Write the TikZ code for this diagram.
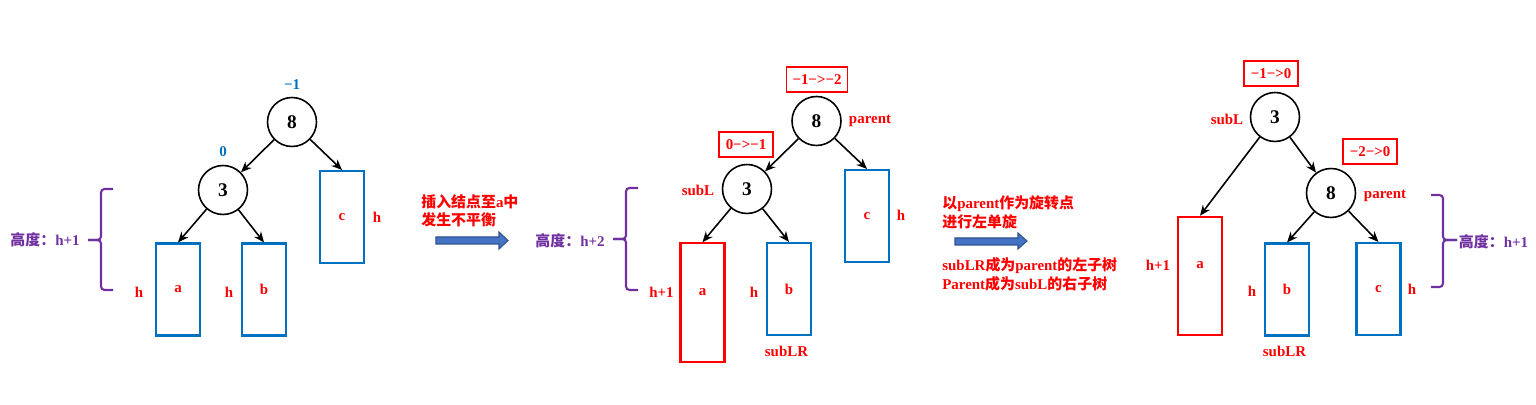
\documentclass[tikz,border=0pt]{standalone}
\usepackage{fontspec}
\setmainfont{Liberation Serif}
\newfontfamily\cjk{Noto Sans CJK SC}
\usetikzlibrary{arrows.meta}
\definecolor{boxblue}{RGB}{0,112,192}
\definecolor{hpurple}{RGB}{112,48,160}
\definecolor{pushfill}{RGB}{68,114,196}
\definecolor{pushline}{RGB}{47,82,143}
\tikzset{
  knot/.style    = {circle, draw, line width=0.9pt, minimum size=0.98cm, inner sep=0, font=\fontsize{11}{12}\selectfont\bfseries},
  sub/.style     = {rectangle, draw=boxblue, line width=1.2pt, minimum width=0.88cm, minimum height=1.84cm, inner sep=0, text=red, font=\fontsize{8.5}{10}\selectfont\bfseries},
  tallsub/.style = {sub, draw=red, minimum height=2.37cm},
  lbl/.style     = {text=red, inner sep=0, font=\fontsize{8.5}{10}\selectfont\bfseries},
  bf/.style      = {lbl, text=boxblue},
  chg/.style     = {lbl, draw=red, line width=0.7pt, minimum width=1.08cm, minimum height=0.5cm},
  ht/.style      = {lbl, text=hpurple},
  note/.style    = {lbl, anchor=west, align=left, font=\fontsize{8.5}{10.5}\selectfont\bfseries},
  edge/.style    = {line width=0.9pt, -{Stealth[length=6pt,width=5pt]}},
  hbrace/.style  = {draw=hpurple, line width=1.2pt, rounded corners=2pt},
  push/.style    = {draw=pushline, fill=pushfill, line width=0.6pt}
}

\begin{document}
\begin{tikzpicture}[x=0.02cm, y=-0.02cm]
  \useasboundingbox (0,0) rectangle (1536,405);

  % before insertion
  \node[knot] (p8) at (292,122) {8};     \node[bf] (p8b) at (292,85) {−1};
  \node[knot] (p3) at (223,190) {3};     \node[bf] (p3b) at (223,152) {0};
  \node[sub]  (pa) at (178,289.5) {a};   \node[lbl] (pah) at (139,292) {h};
  \node[sub]  (pb) at (264,289.5) {b};   \node[lbl] (pbh) at (229,292) {h};
  \node[sub]  (pc) at (342,217) {c};     \node[lbl] (pch) at (377,217) {h};
  \draw[edge] (p8) -- (p3);  \draw[edge] (p8) -- (pc.north);
  \draw[edge] (p3) -- (pa.north);  \draw[edge] (p3) -- (pb.north);
  \draw[hbrace] (113,189) -- (101,189) -- (101,240) -- (88,240);
  \draw[hbrace] (88,240) -- (101,240) -- (101,290) -- (113,290);
  \node[ht] (ph) at (45,240) {{\cjk 高度：}h+1};

  \node[note] (n1) at (421,211) {{\cjk 插入结点至}a{\cjk 中}\\{\cjk 发生不平衡}};
  \draw[push] (436,237) -- (499,237) -- (499,232) -- (508,240.5) -- (499,249) -- (499,244) -- (436,244) -- cycle;

  % after insertion
  \node[ht] (qh) at (570,241) {{\cjk 高度：}h+2};
  \draw[hbrace] (638,188) -- (626,188) -- (626,239) -- (613,239);
  \draw[hbrace] (613,239) -- (626,239) -- (626,290) -- (638,290);
  \node[knot] (q8) at (816.5,121) {8};   \node[lbl] (q8n) at (870,121) {parent};
  \node[chg, minimum width=1.22cm] (q8b) at (817,79.5) {−1−>−2};
  \node[knot] (q3) at (747,189) {3};     \node[lbl] (q3n) at (698,190) {subL};
  \node[chg] (q3b) at (746,144.5) {0−>−1};
  \node[tallsub, label={[lbl,yshift=0.21cm]center:a}] (qa) at (702.5,302.5) {};
  \node[lbl] (qah) at (661.5,292) {h+1};
  \node[sub]  (qb) at (789,289) {b};     \node[lbl] (qbh) at (754,292) {h};
  \node[lbl] (qbn) at (786.5,351) {subLR};
  \node[sub]  (qc) at (867,216) {c};     \node[lbl] (qch) at (901,215) {h};
  \draw[edge] (q8) -- (q3);  \draw[edge] (q8) -- (qc.north);
  \draw[edge] (q3) -- (qa.north);  \draw[edge] (q3) -- (qb.north);

  \node[note] (n2) at (942,212.5) {{\cjk 以}parent{\cjk 作为旋转点}\\{\cjk 进行左单旋}};
  \draw[push] (955,238) -- (1018,238) -- (1018,233) -- (1027,241) -- (1018,249) -- (1018,245) -- (955,245) -- cycle;
  \node[note] (n3) at (942,274.5) {subLR{\cjk 成为}parent{\cjk 的左子树}\\Parent{\cjk 成为}subL{\cjk 的右子树}};

  % after left rotation
  \node[knot] (r3) at (1275,117) {3};    \node[lbl] (r3n) at (1227,119) {subL};
  \node[chg] (r3b) at (1271,73.5) {−1−>0};
  \node[knot] (r8) at (1331,193) {8};    \node[lbl] (r8n) at (1385,196) {parent};
  \node[chg] (r8b) at (1370,151.5) {−2−>0};
  \node[tallsub, label={[lbl,yshift=0.22cm]center:a}] (ra) at (1200,276) {};
  \node[lbl] (rah) at (1158,265) {h+1};
  \node[sub]  (rb) at (1287,289.5) {b};  \node[lbl] (rbh) at (1252,291) {h};
  \node[lbl] (rbn) at (1284.5,351) {subLR};
  \node[sub]  (rc) at (1378.5,289) {c};  \node[lbl] (rch) at (1412,289) {h};
  \draw[edge] (r3) -- (ra.north);  \draw[edge] (r3) -- (r8);
  \draw[edge] (r8) -- (rb.north);  \draw[edge] (r8) -- (rc.north);
  \draw[hbrace] (1431,195) -- (1443,195) -- (1443,240) -- (1457,240);
  \draw[hbrace] (1457,240) -- (1443,240) -- (1443,287) -- (1431,287);
  \node[ht] (rh) at (1493.5,242) {{\cjk 高度：}h+1};
\end{tikzpicture}
\end{document}
